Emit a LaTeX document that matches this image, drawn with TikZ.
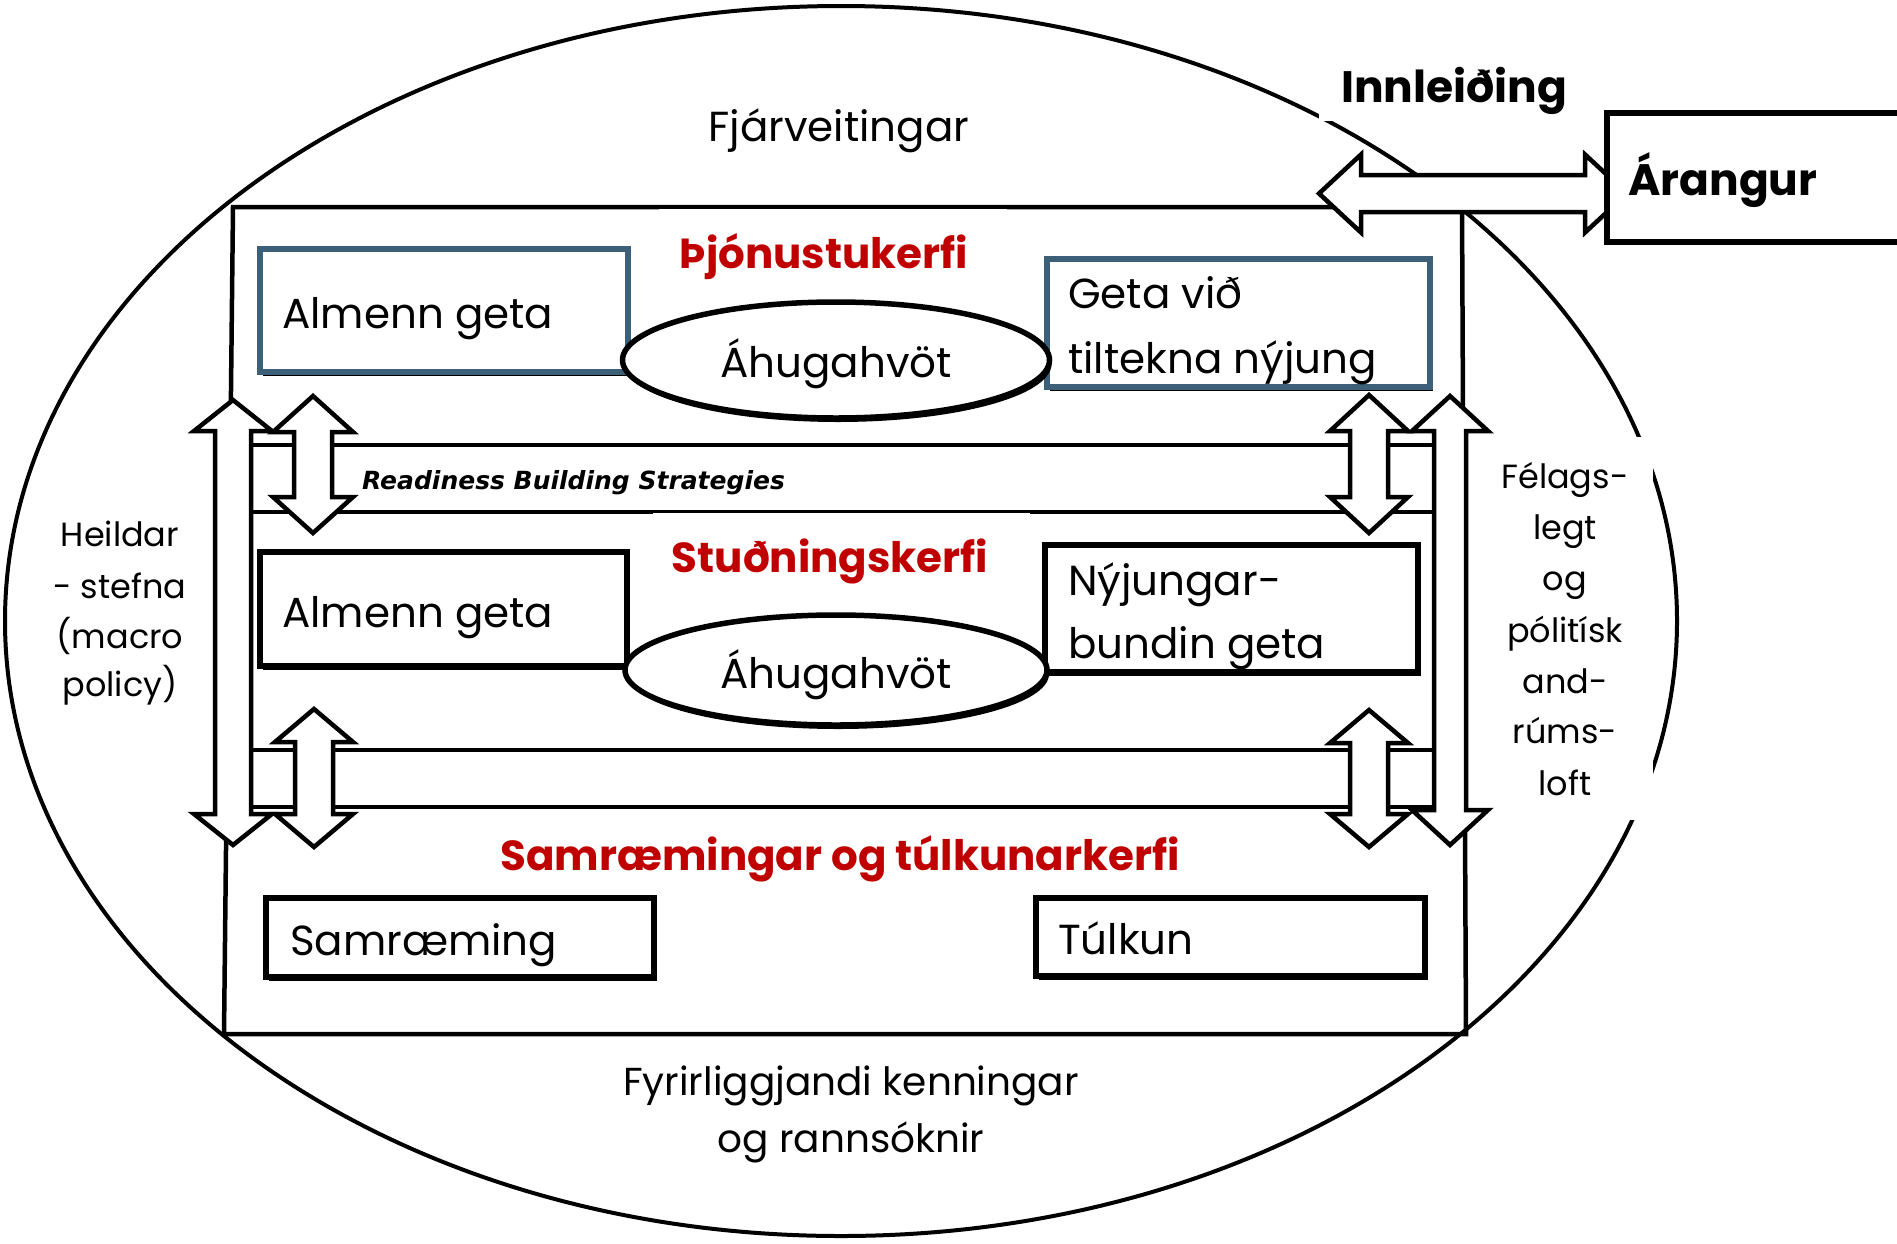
\documentclass[tikz,border=0pt]{standalone}
\usepackage{fontspec}
\setmainfont{Poppins}
\newfontfamily\strategyfont{DejaVu Sans}
\usetikzlibrary{shapes.geometric,shadows}

\definecolor{boxblue}{RGB}{61,96,121}
\definecolor{titlered}{RGB}{192,0,0}

% vertical double block arrow: centre x, top tip, bottom tip, head length, head half-width, shaft half-width
\newcommand{\vblockarrow}[6]{%
  \draw[blockarrow] (#1,#2) -- (#1+#5,#2+#4) -- (#1+#6,#2+#4) -- (#1+#6,#3-#4)
    -- (#1+#5,#3-#4) -- (#1,#3) -- (#1-#5,#3-#4) -- (#1-#6,#3-#4)
    -- (#1-#6,#2+#4) -- (#1-#5,#2+#4) -- cycle;}
% horizontal double block arrow: centre y, left tip, right tip, head length, head half-width, shaft half-width
\newcommand{\hblockarrow}[6]{%
  \draw[blockarrow] (#2,#1) -- (#2+#4,#1-#5) -- (#2+#4,#1-#6) -- (#3-#4,#1-#6)
    -- (#3-#4,#1-#5) -- (#3,#1) -- (#3-#4,#1+#5) -- (#3-#4,#1+#6)
    -- (#2+#4,#1+#6) -- (#2+#4,#1+#5) -- cycle;}

\begin{document}
\begin{tikzpicture}[x=1pt, y=-1pt,
  frame/.style={draw=black, line width=4.5pt},
  blockarrow/.style={draw=black, fill=white, line width=4.5pt, line join=miter},
  band/.style={draw=black, fill=white, line width=4.5pt},
  box/.style={rectangle, draw=black, fill=white, line width=5.5pt, inner sep=0pt,
    drop shadow={shadow xshift=3pt, shadow yshift=-4pt, fill=black, opacity=1}},
  bluebox/.style={box, draw=boxblue},
  oval/.style={ellipse, draw=black, fill=white, line width=5.5pt, inner sep=0pt,
    drop shadow={shadow xshift=2pt, shadow yshift=-4pt, fill=black, opacity=1}},
  txt/.style={inner sep=0pt, font=\fontsize{42}{50}\selectfont},
  smalltxt/.style={inner sep=0pt, font=\fontsize{33.5}{40}\selectfont},
  lowtxt/.style={inner sep=0pt, font=\fontsize{39}{46}\selectfont},
  boldtxt/.style={inner sep=0pt, font=\fontsize{44}{52}\selectfont\bfseries},
  titletxt/.style={inner sep=0pt, text=titlered, font=\fontsize{42}{50}\selectfont\bfseries},
  strategytxt/.style={inner sep=0pt, font=\strategyfont\fontsize{25}{30}\selectfont\bfseries\itshape}
]
\useasboundingbox (0,0) rectangle (1897,1243);
\clip (0,0) rectangle (1897,1243);
\fill[white] (0,0) rectangle (1897,1243);

% surrounding context
\draw[line width=4pt] (841,621) ellipse [x radius=836, y radius=615];
\fill[white] (1319,40) rectangle (1580,121);
\fill[white] (1477,437) rectangle (1653,820);

% the three nested systems
\draw[frame] (233,207) -- (1462,207) -- (1466,1034) -- (224,1034) -- cycle;
\fill[white] (659,208.5) rectangle (1007,280);

\draw[band] (240,445) rectangle (1445,512);
\draw[band] (240,750) rectangle (1445,807);
\fill[white] (653,512.5) rectangle (1030,590);

% boxes of the delivery system
\node[bluebox, minimum width=368pt, minimum height=123pt] (gen1) at (444,310.5) {};
\node[bluebox, minimum width=383pt, minimum height=128pt] (spec1) at (1238.5,323) {};
\node[oval, minimum width=427pt, minimum height=116pt] (mot1) at (836,360) {};

% boxes of the support system
\node[box, minimum width=367pt, minimum height=114pt] (gen2) at (443.5,609) {};
\node[box, minimum width=373pt, minimum height=127pt] (spec2) at (1231.5,608.5) {};
\node[oval, minimum width=422pt, minimum height=110pt] (mot2) at (836,670) {};

% boxes of the synthesis and translation system
\node[box, minimum width=388pt, minimum height=79pt] (synth) at (460,937.5) {};
\node[box, minimum width=389pt, minimum height=78pt] (transl) at (1230.5,937) {};

% links between the systems
\vblockarrow{313}{396}{533}{36}{40}{19}
\vblockarrow{1369}{395}{533}{36}{39}{19}
\vblockarrow{314}{709}{847}{33}{39}{19}
\vblockarrow{1369}{710}{847}{33}{39}{19}
\vblockarrow{233}{400}{845}{31}{39}{18}
\vblockarrow{1450}{396}{845}{35}{38}{16}

% implementation towards outcomes
\hblockarrow{193.5}{1319}{1627}{42}{39}{18.5}
\node[rectangle, draw=black, fill=white, line width=5.5pt, minimum width=303pt, minimum height=129pt] (outc) at (1758.5,177.5) {};

% labels
\node[txt, anchor=base] (fund) at (839,141) {Fjárveitingar};
\node[boldtxt, anchor=base west] (impl) at (1341,102) {Innleiðing};
\node[boldtxt, anchor=base west] (outct) at (1628,195) {Árangur};

\node[titletxt, anchor=base] (deliv) at (824,268) {Þjónustukerfi};
\node[titletxt, anchor=base] (supp) at (830,572) {Stuðningskerfi};
\node[titletxt, anchor=base] (synsys) at (840,870) {Samræmingar og túlkunarkerfi};

\node[txt, anchor=base west] (gen1t) at (282,328) {Almenn geta};
\node[txt, anchor=base] (mot1t) at (836,377) {Áhugahvöt};
\node[txt, anchor=base west] (spec1a) at (1068,308) {Geta við};
\node[txt, anchor=base west] (spec1b) at (1068,373) {tiltekna nýjung};

\node[strategytxt, anchor=base west] (rbs) at (362,489) {Readiness Building Strategies};

\node[txt, anchor=base west] (gen2t) at (282,627) {Almenn geta};
\node[txt, anchor=base] (mot2t) at (836,688) {Áhugahvöt};
\node[txt, anchor=base west] (spec2a) at (1068,595) {Nýjungar-};
\node[txt, anchor=base west] (spec2b) at (1068,658) {bundin geta};

\node[txt, anchor=base west] (syntht) at (290,955) {Samræming};
\node[txt, anchor=base west] (translt) at (1058,954) {Túlkun};

\node[smalltxt, anchor=base] (mac1) at (120,546) {Heildar};
\node[smalltxt, anchor=base] (mac2) at (120,598) {- stefna};
\node[smalltxt, anchor=base] (mac3) at (120,648) {(macro};
\node[smalltxt, anchor=base] (mac4) at (120,696) {policy)};

\node[smalltxt, anchor=base] (soc1) at (1565,488) {Félags-};
\node[smalltxt, anchor=base] (soc2) at (1565,539) {legt};
\node[smalltxt, anchor=base] (soc3) at (1565,590) {og};
\node[smalltxt, anchor=base] (soc4) at (1565,642) {pólitísk};
\node[smalltxt, anchor=base] (soc5) at (1565,693) {and-};
\node[smalltxt, anchor=base] (soc6) at (1565,743) {rúms-};
\node[smalltxt, anchor=base] (soc7) at (1565,795) {loft};

\node[lowtxt, anchor=base] (theo1) at (851,1095) {Fyrirliggjandi kenningar};
\node[lowtxt, anchor=base] (theo2) at (851,1152) {og rannsóknir};
\end{tikzpicture}
\end{document}
